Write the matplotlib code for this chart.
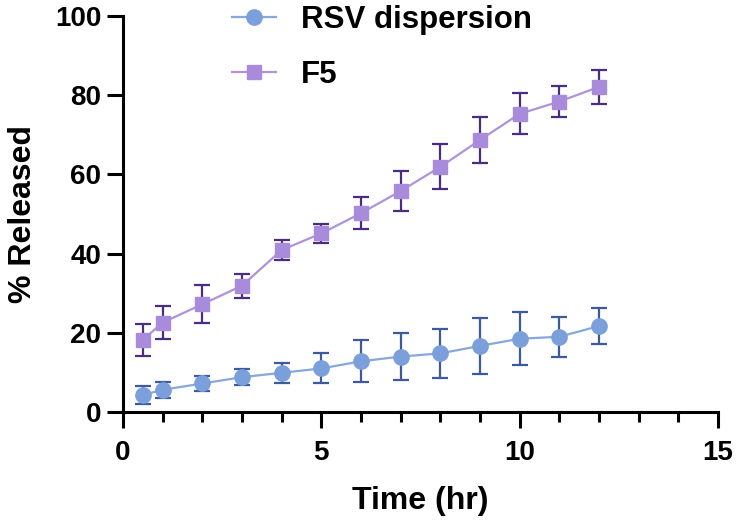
import matplotlib.pyplot as plt
import numpy as np

plt.rcParams['font.family'] = ['Liberation Sans', 'DejaVu Sans']
plt.rcParams['font.weight'] = 'bold'

time_hr = [0.5, 1, 2, 3, 4, 5, 6, 7, 8, 9, 10, 11, 12]
rsv_mean = [4.3, 5.6, 7.2, 8.8, 9.9, 11.0, 12.8, 14.0, 14.8, 16.7, 18.5, 19.0, 21.7]
rsv_sd = [2.2, 2.0, 2.0, 2.1, 2.5, 3.8, 5.3, 6.0, 6.2, 7.0, 6.7, 5.0, 4.5]
f5_mean = [18.2, 22.6, 27.2, 31.9, 40.9, 45.1, 50.2, 55.8, 61.9, 68.7, 75.3, 78.4, 82.1]
f5_sd = [4.0, 4.2, 4.8, 3.0, 2.5, 2.4, 4.0, 5.0, 5.7, 5.7, 5.2, 4.0, 4.2]

fig = plt.figure(figsize=(7.4, 5.2), dpi=100)
ax = fig.add_axes([123/740, 1-412/520, (718-123)/740, (412-16)/520])

e1 = ax.errorbar(time_hr, rsv_mean, yerr=rsv_sd, color='#86a8dc', marker='o', ms=11,
                 mfc='#7a9fda', mec='#7a9fda', lw=1.6, ecolor='#3d5a9c', elinewidth=1.6,
                 capsize=5.5, capthick=1.6)
e2 = ax.errorbar(time_hr, f5_mean, yerr=f5_sd, color='#ad93dc', marker='s', ms=10.5,
                 mfc='#a98bdb', mec='#a98bdb', lw=1.6, ecolor='#4a2c80', elinewidth=1.6,
                 capsize=5.5, capthick=1.6)

ax.set_xlim(0, 15)
ax.set_ylim(0, 100)
ax.set_xticks([0, 5, 10, 15])
ax.set_xticks(np.arange(0, 16, 1), minor=True)
ax.set_yticks([0, 20, 40, 60, 80, 100])

for s in ['top', 'right']:
    ax.spines[s].set_visible(False)
for s in ['left', 'bottom']:
    ax.spines[s].set_linewidth(2.2)

ax.tick_params(axis='both', which='major', length=11.5, width=2.2, labelsize=20, direction='out')
ax.tick_params(axis='x', which='major', pad=9)
ax.tick_params(axis='y', which='major', pad=4)
ax.tick_params(axis='x', which='minor', length=7, width=2.2)
for lab in ax.get_xticklabels() + ax.get_yticklabels():
    lab.set_fontweight('bold')

ax.set_xlabel('Time (hr)', fontsize=23, fontweight='bold', labelpad=14)
ax.set_ylabel('% Released', fontsize=23, fontweight='bold', labelpad=12)

# legend shows only line + marker, no error bars
fig.legend([e1.lines[0], e2.lines[0]], ['RSV dispersion', 'F5'],
           loc='upper left', bbox_to_anchor=(232/740, 0.99), frameon=False,
           handlelength=1.4, handletextpad=0.8, labelspacing=0.8,
           borderpad=0, borderaxespad=0, prop={'weight': 'bold', 'size': 22.5})

fig.savefig('out.png', dpi=100)
